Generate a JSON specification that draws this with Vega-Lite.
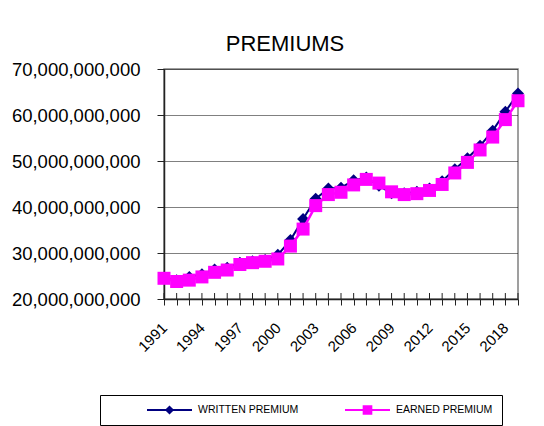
{
  "$schema": "https://vega.github.io/schema/vega-lite/v6.json",
  "width": 354,
  "height": 230,
  "autosize": "none",
  "padding": {"left": 164, "top": 69, "right": 26, "bottom": 127},
  "background": "white",
  "title": {
    "text": "PREMIUMS",
    "anchor": "middle",
    "frame": "group",
    "dx": -56,
    "offset": 4,
    "font": "Liberation Sans",
    "fontSize": 22,
    "fontWeight": "normal",
    "color": "black"
  },
  "config": {
    "view": {"stroke": "#808080", "strokeWidth": 1.5},
    "axis": {"domainColor": "#222222", "domainWidth": 1.5, "tickColor": "#222222", "tickWidth": 1, "labelColor": "black"}
  },
  "data": {
    "values": [
      {"year": 1991, "written": 24700000000, "earned": 24500000000},
      {"year": 1992, "written": 24100000000, "earned": 23800000000},
      {"year": 1993, "written": 24800000000, "earned": 24100000000},
      {"year": 1994, "written": 25400000000, "earned": 24800000000},
      {"year": 1995, "written": 26400000000, "earned": 25800000000},
      {"year": 1996, "written": 26800000000, "earned": 26300000000},
      {"year": 1997, "written": 27900000000, "earned": 27500000000},
      {"year": 1998, "written": 28200000000, "earned": 27900000000},
      {"year": 1999, "written": 28500000000, "earned": 28200000000},
      {"year": 2000, "written": 29600000000, "earned": 28700000000},
      {"year": 2001, "written": 32800000000, "earned": 31500000000},
      {"year": 2002, "written": 37400000000, "earned": 35200000000},
      {"year": 2003, "written": 41800000000, "earned": 40300000000},
      {"year": 2004, "written": 44000000000, "earned": 42700000000},
      {"year": 2005, "written": 44200000000, "earned": 43200000000},
      {"year": 2006, "written": 45800000000, "earned": 44800000000},
      {"year": 2007, "written": 46400000000, "earned": 46000000000},
      {"year": 2008, "written": 44600000000, "earned": 45200000000},
      {"year": 2009, "written": 43000000000, "earned": 43300000000},
      {"year": 2010, "written": 43000000000, "earned": 42700000000},
      {"year": 2011, "written": 43300000000, "earned": 42900000000},
      {"year": 2012, "written": 44000000000, "earned": 43600000000},
      {"year": 2013, "written": 45600000000, "earned": 44900000000},
      {"year": 2014, "written": 48200000000, "earned": 47400000000},
      {"year": 2015, "written": 50600000000, "earned": 49700000000},
      {"year": 2016, "written": 53300000000, "earned": 52400000000},
      {"year": 2017, "written": 56600000000, "earned": 55200000000},
      {"year": 2018, "written": 60700000000, "earned": 59000000000},
      {"year": 2019, "written": 64700000000, "earned": 63100000000}
    ]
  },
  "encoding": {
    "x": {
      "field": "year",
      "type": "quantitative",
      "scale": {"domain": [1991, 2019], "nice": false, "zero": false},
      "axis": {
        "title": null,
        "grid": false,
        "values": [1991,1992,1993,1994,1995,1996,1997,1998,1999,2000,2001,2002,2003,2004,2005,2006,2007,2008,2009,2010,2011,2012,2013,2014,2015,2016,2017,2018,2019],
        "labelExpr": "(datum.value - 1991) % 3 == 0 ? format(datum.value, 'd') : ''",
        "tickSize": 6,
        "labelAngle": -45,
        "labelAlign": "right",
        "labelBaseline": "middle",
        "labelPadding": 20,
        "labelFont": "Liberation Sans",
        "labelFontSize": 15,
        "labelOverlap": false,
        "labelFlush": false
      }
    }
  },
  "layer": [
    {
      "mark": {"type": "rule", "color": "#222222", "strokeWidth": 1},
      "encoding": {
        "y": {"datum": 20000000000, "type": "quantitative"},
        "y2": {"datum": 21300000000}
      }
    },
    {
      "mark": {"type": "line", "strokeWidth": 2},
      "encoding": {
        "y": {
          "field": "written",
          "type": "quantitative",
          "scale": {"domain": [20000000000, 70000000000], "nice": false, "zero": false},
          "axis": {
            "title": null,
            "values": [20000000000, 30000000000, 40000000000, 50000000000, 60000000000, 70000000000],
            "format": ",.0f",
            "tickSize": 7,
            "labelPadding": 17,
            "labelFont": "Liberation Sans",
            "labelFontSize": 18.5,
            "labelFlush": false,
            "grid": true,
            "gridColor": "black",
            "gridDash": [1, 1],
            "gridWidth": 1
          }
        },
        "color": {
          "datum": "WRITTEN PREMIUM",
          "scale": {"domain": ["WRITTEN PREMIUM", "EARNED PREMIUM"], "range": ["#000080", "#FF00FF"]},
          "legend": {
            "orient": "none",
            "legendX": -64,
            "legendY": 326,
            "direction": "horizontal",
            "title": null,
            "strokeColor": "black",
            "padding": 9,
            "symbolSize": 2025,
            "clipHeight": 12,
            "symbolStrokeWidth": 2,
            "symbolOffset": 37,
            "labelOffset": 5,
            "columnPadding": 8,
            "labelFont": "Liberation Sans",
            "labelFontSize": 10.5,
            "labelColor": "black",
            "labelExpr": "datum.label == 'EARNED PREMIUM' ? datum.label + '\u00a0\u00a0\u00a0\u00a0\u00a0\u00a0\u00a0\u00a0\u00a0\u00a0\u00a0' : datum.label",
            "encode": {
              "symbols": {
                "update": {
                  "shape": {"signal": "datum.value === 'WRITTEN PREMIUM' ? 'M-1,0H1M-0.14,0L0,-0.14L0.14,0L0,0.14Z' : 'M-1,0H1M-0.17,-0.17H0.17V0.17H-0.17Z'"},
                  "fill": {"signal": "datum.value === 'WRITTEN PREMIUM' ? '#000080' : '#FF00FF'"},
                  "stroke": {"signal": "datum.value === 'WRITTEN PREMIUM' ? '#000080' : '#FF00FF'"}
                }
              }
            }
          }
        }
      }
    },
    {
      "mark": {"type": "point", "shape": "diamond", "filled": true, "size": 144, "opacity": 1},
      "encoding": {
        "y": {"field": "written", "type": "quantitative"},
        "color": {"datum": "WRITTEN PREMIUM"}
      }
    },
    {
      "mark": {"type": "line", "strokeWidth": 2.5},
      "encoding": {
        "y": {"field": "earned", "type": "quantitative"},
        "color": {"datum": "EARNED PREMIUM"}
      }
    },
    {
      "mark": {"type": "point", "shape": "square", "filled": true, "size": 169, "opacity": 1},
      "encoding": {
        "y": {"field": "earned", "type": "quantitative"},
        "color": {"datum": "EARNED PREMIUM"}
      }
    }
  ]
}
